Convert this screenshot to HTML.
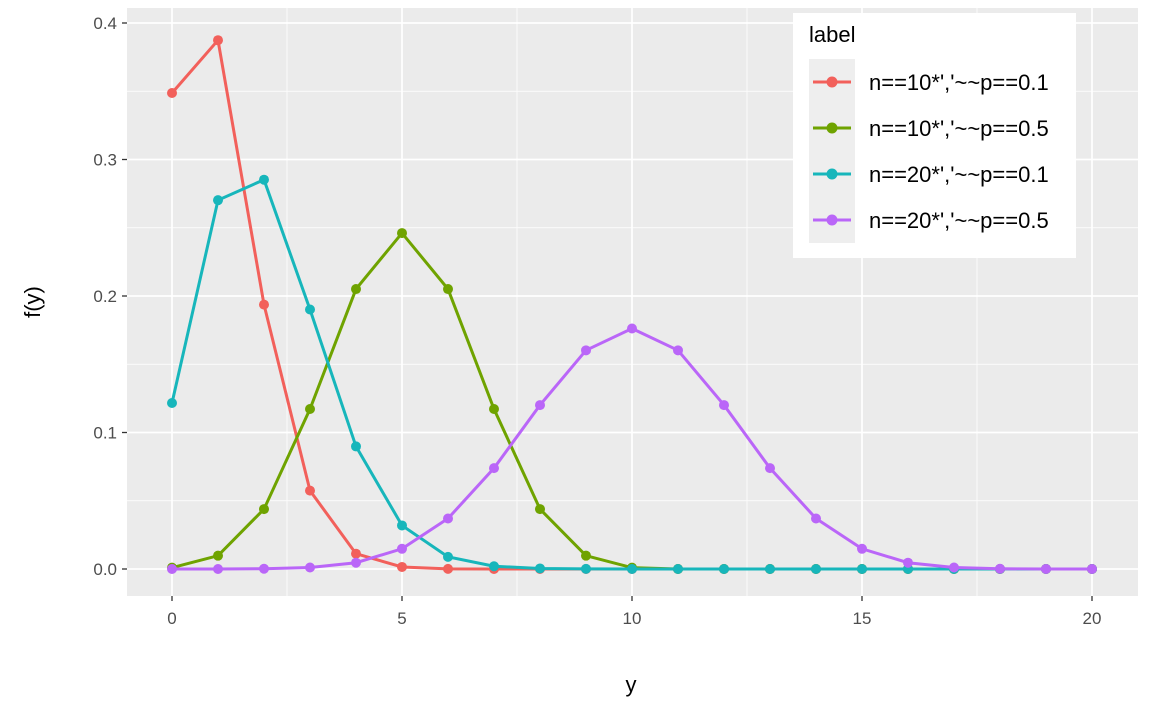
<!DOCTYPE html>
<html><head><meta charset="utf-8"><style>
body{margin:0;background:#fff;}
svg{display:block;font-family:"Liberation Sans",Arial,sans-serif;}
</style></head><body>
<svg id="chart" width="1152" height="711" xmlns="http://www.w3.org/2000/svg">
<rect x="127" y="8" width="1011" height="588" fill="#EBEBEB"/>
<g id="grid"></g><g id="series"></g><g id="axes"></g><g id="legend"></g>
<text x="631" y="692" font-size="22" text-anchor="middle" fill="#000">y</text>
<text x="40" y="302" font-size="22" text-anchor="middle" fill="#000" transform="rotate(-90 40 302)">f(y)</text>
</svg>
<script>
const xs=[0,1,2,3,4,5,6,7,8,9,10,11,12,13,14,15,16,17,18,19,20];
const s1=[0.3487,0.3874,0.1937,0.0574,0.0112,0.0015,0.0001,0,0,0,0,0,0,0,0,0,0,0,0,0,0];
const s2=[0.00098,0.00977,0.0439,0.1172,0.2051,0.2461,0.2051,0.1172,0.0439,0.00977,0.00098,0,0,0,0,0,0,0,0,0,0];
const s3=[0.1216,0.2702,0.2852,0.1901,0.0898,0.0319,0.0089,0.0020,0.0004,0.0001,0,0,0,0,0,0,0,0,0,0,0];
const s4=[0.000001,0.000019,0.0002,0.0011,0.0046,0.0148,0.0370,0.0739,0.1201,0.1602,0.1762,0.1602,0.1201,0.0739,0.0370,0.0148,0.0046,0.0011,0.0002,0.00002,0.000001];
const labels=["n==10*','~~p==0.1","n==10*','~~p==0.5","n==20*','~~p==0.1","n==20*','~~p==0.5"];
const colors=["#F2605B","#6FA300","#17B6BB","#BA66F8"];
const xTicks=[0,5,10,15,20];
const yTicks=[0,0.1,0.2,0.3,0.4];
const X=v=>172+v*46, Y=v=>569-v*1365;
const NS="http://www.w3.org/2000/svg";
function mk(t,a,p){const e=document.createElementNS(NS,t);for(const k in a)e.setAttribute(k,a[k]);p.appendChild(e);return e;}
const grid=document.getElementById('grid'),axes=document.getElementById('axes');
[2.5,7.5,12.5,17.5].forEach(v=>{const l=mk('line',{x1:X(v),x2:X(v),y1:8,y2:596,stroke:'#fff','stroke-width':0.8},grid);

});
[0.05,0.15,0.25,0.35].forEach(v=>{const l=mk('line',{x1:127,x2:1138,y1:Y(v),y2:Y(v),stroke:'#fff','stroke-width':0.8},grid);

});
xTicks.forEach(v=>{const l=mk('line',{x1:X(v),x2:X(v),y1:8,y2:596,stroke:'#fff','stroke-width':1.7},grid);


const t=mk('line',{x1:X(v),x2:X(v),y1:596,y2:601,stroke:'#333','stroke-width':1.3},axes);


const tx=mk('text',{x:X(v),y:624,'font-size':17,'text-anchor':'middle',fill:'#4D4D4D'},axes);tx.textContent=v;

});
yTicks.forEach(v=>{const l=mk('line',{x1:127,x2:1138,y1:Y(v),y2:Y(v),stroke:'#fff','stroke-width':1.7},grid);


const t=mk('line',{x1:122,x2:127,y1:Y(v),y2:Y(v),stroke:'#333','stroke-width':1.3},axes);


const tx=mk('text',{x:117,y:Y(v)+6,'font-size':17,'text-anchor':'end',fill:'#4D4D4D'},axes);tx.textContent=v.toFixed(1);

});
const ser=document.getElementById('series');
[s1,s2,s3,s4].forEach((s,i)=>{const g=mk('g',{},ser);


const pl=mk('polyline',{points:xs.map((x,j)=>X(x)+','+Y(s[j])).join(' '),fill:'none',stroke:colors[i],'stroke-width':3},g);


xs.forEach((x,j)=>{const c=mk('circle',{cx:X(x),cy:Y(s[j]),r:5,fill:colors[i]},g);

});});
const lg=document.getElementById('legend');
const bg=mk('rect',{x:793,y:13,width:283,height:245,fill:'#fff'},lg);


const kb=mk('rect',{x:809,y:59,width:46,height:184,fill:'#EEEEEE'},lg);


const lt=mk('text',{x:809,y:42,'font-size':22,fill:'#000'},lg);lt.textContent='label';


labels.forEach((lab,i)=>{const y=82+i*46;const g=mk('g',{},lg);


mk('line',{x1:813,x2:851,y1:y,y2:y,stroke:colors[i],'stroke-width':3},g);
mk('circle',{cx:832,cy:y,r:5.5,fill:colors[i]},g);
const t=mk('text',{x:869,y:y+8,'font-size':22,fill:'#000'},g);t.textContent=lab;});
</script>
</body></html>
